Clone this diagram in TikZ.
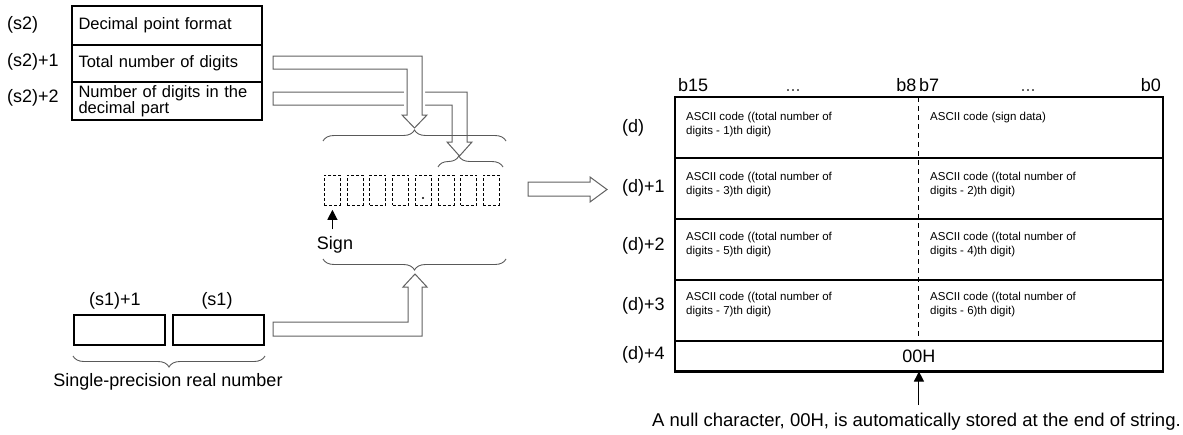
\documentclass[tikz,border=0pt]{standalone}
\usepackage{fontspec}
\setmainfont{Liberation Sans}
\usetikzlibrary{decorations.pathreplacing,arrows.meta}
\begin{document}
\begin{tikzpicture}[x=1pt,y=-1pt,
  lbl/.style={inner sep=0pt,font=\fontsize{18}{21}\selectfont},
  tcell/.style={draw,line width=1pt,inner xsep=6pt,inner ysep=0pt,anchor=north west,text width=177pt,align=left,font=\fontsize{16.5}{12.5}\selectfont},
  drow/.style={draw,line width=0.9pt,minimum width=487pt,inner sep=0pt,anchor=north west,font=\fontsize{18}{21}\selectfont},
  ctext/.style={inner sep=0pt,anchor=west,align=left,font=\fontsize{11.5}{14}\selectfont},
  hollow/.style={draw=black!62,fill=white,line width=1pt,line join=miter},
  brc/.style={draw=black!65,line width=0.9pt,decorate,decoration={brace,amplitude=11pt}},
  dbox/.style={draw,dash pattern=on 3pt off 2pt,line width=0.8pt,minimum width=16pt,minimum height=30pt,inner sep=0pt,anchor=north west},
  sbox/.style={draw,line width=2pt,minimum width=91pt,minimum height=30pt,inner sep=0pt,anchor=north west},
  uparrow/.style={-{Triangle[length=10pt,width=10pt]},line width=1pt}
]
\useasboundingbox (0,0) rectangle (1183,434);

% ---- (s2) table ----
\node[tcell,minimum height=38pt] (s20) at (72,6) {Decimal point format};
\node[tcell,minimum height=36pt] (s21) at (s20.south west) {Total number of digits};
\node[tcell,minimum height=37pt] (s22) at (s21.south west) {Number of digits in the\\decimal part};
\draw[line width=2pt] (s20.north west) rectangle (s22.south east);
\node[lbl,anchor=west] (ls20) at (7,25) {(s2)};
\node[lbl,anchor=west] (ls21) at (7,62) {(s2)+1};
\node[lbl,anchor=west] (ls22) at (7,98) {(s2)+2};

% ---- hollow arrows from (s2) ----
\draw[hollow] (273,92) -- (467,92) -- (467,142) -- (472,142) -- (459.5,156) -- (447,142) -- (452,142) -- (452,105) -- (273,105) -- cycle;
\draw[hollow,preaction={draw=white,line width=6pt}] (273,56) -- (422,56) -- (422,115) -- (427,115) -- (414.5,128) -- (402,115) -- (407,115) -- (407,69) -- (273,69) -- cycle;

% ---- braces above digit boxes ----
\draw[brc] (323,141) -- (506,141);
\draw[brc,decoration={aspect=0.32}] (438,167) -- (503,167);

% ---- digit boxes ----
\foreach \i in {0,...,7} \node[dbox] (g\i) at ({324+\i*22.7},175) {};
\fill (423,198) circle (1.1pt);

% ---- sign ----
\node[lbl] (sign) at (335,245) {Sign};
\draw[uparrow,shorten <=7pt,shorten >=4pt] (sign.north -| g0.south) -- (g0.south);

% ---- brace below digit boxes and arrow from (s1) ----
\draw[brc] (506,259) -- (323,259);
\draw[hollow] (273,322) -- (408,322) -- (408,287) -- (403,287) -- (415,274) -- (427,287) -- (422,287) -- (422,336) -- (273,336) -- cycle;

% ---- (s1) boxes ----
\node[sbox] (s1h) at (73,314) {};
\node[sbox] (s1l) at (172,314) {};
\node[lbl] (ls1h) at (115,301) {(s1)+1};
\node[lbl] (ls1l) at (217,301) {(s1)};
\draw[brc] ([yshift=-10pt]s1l.south east) -- ([yshift=-10pt]s1h.south west);
\node[lbl] (spr) at (168,382) {Single-precision real number};

% ---- big arrow to (d) ----
\draw[hollow] (528,182) -- (590,182) -- (590,177) -- (607,189.5) -- (590,202) -- (590,196) -- (528,196) -- cycle;

% ---- (d) table ----
\node[drow,minimum height=60pt] (d0) at (675,97) {};
\node[drow,minimum height=60pt] (d1) at (d0.south west) {};
\node[drow,minimum height=60pt] (d2) at (d1.south west) {};
\node[drow,minimum height=60pt] (d3) at (d2.south west) {};
\node[drow,minimum height=30pt] (d4) at (d3.south west) {00H};
\draw[line width=2.2pt] (d0.north west) rectangle (d4.south east);
\draw[line width=1pt,dash pattern=on 5pt off 4pt] (d0.north) -- (d3.south);

\node[lbl,anchor=base west] (b15) at (678,91) {b15};
\node[lbl,anchor=base,text=black!70] (dots1) at (793,91) {...};
\node[lbl,anchor=base east] (b8) at (916.5,91) {b8};
\node[lbl,anchor=base west] (b7) at (919,91) {b7};
\node[lbl,anchor=base,text=black!70] (dots2) at (1028,91) {...};
\node[lbl,anchor=base east] (b0) at (1161,91) {b0};

\node[lbl,anchor=west] (ld0) at (622,128) {(d)};
\node[lbl,anchor=west] (ld1) at (622,188) {(d)+1};
\node[lbl,anchor=west] (ld2) at (622,246) {(d)+2};
\node[lbl,anchor=west] (ld3) at (622,306) {(d)+3};
\node[lbl,anchor=west] (ld4) at (622,355) {(d)+4};

\node[ctext] (c0l) at (686,125) {ASCII code ((total number of\\digits - 1)th digit)};
\node[ctext] (c0r) at (930,125) {ASCII code (sign data)\\\vphantom{()}};
\node[ctext] (c1l) at (686,185) {ASCII code ((total number of\\digits - 3)th digit)};
\node[ctext] (c1r) at (930,185) {ASCII code ((total number of\\digits - 2)th digit)};
\node[ctext] (c2l) at (686,245) {ASCII code ((total number of\\digits - 5)th digit)};
\node[ctext] (c2r) at (930,245) {ASCII code ((total number of\\digits - 4)th digit)};
\node[ctext] (c3l) at (686,305) {ASCII code ((total number of\\digits - 7)th digit)};
\node[ctext] (c3r) at (930,305) {ASCII code ((total number of\\digits - 6)th digit)};

% ---- note ----
\node[lbl,font=\fontsize{18.5}{21}\selectfont] (note) at (916.5,422) {A null character, 00H, is automatically stored at the end of string.};
\draw[uparrow,shorten <=8pt] (d4.south |- note.north) -- (d4.south);
\end{tikzpicture}
\end{document}
